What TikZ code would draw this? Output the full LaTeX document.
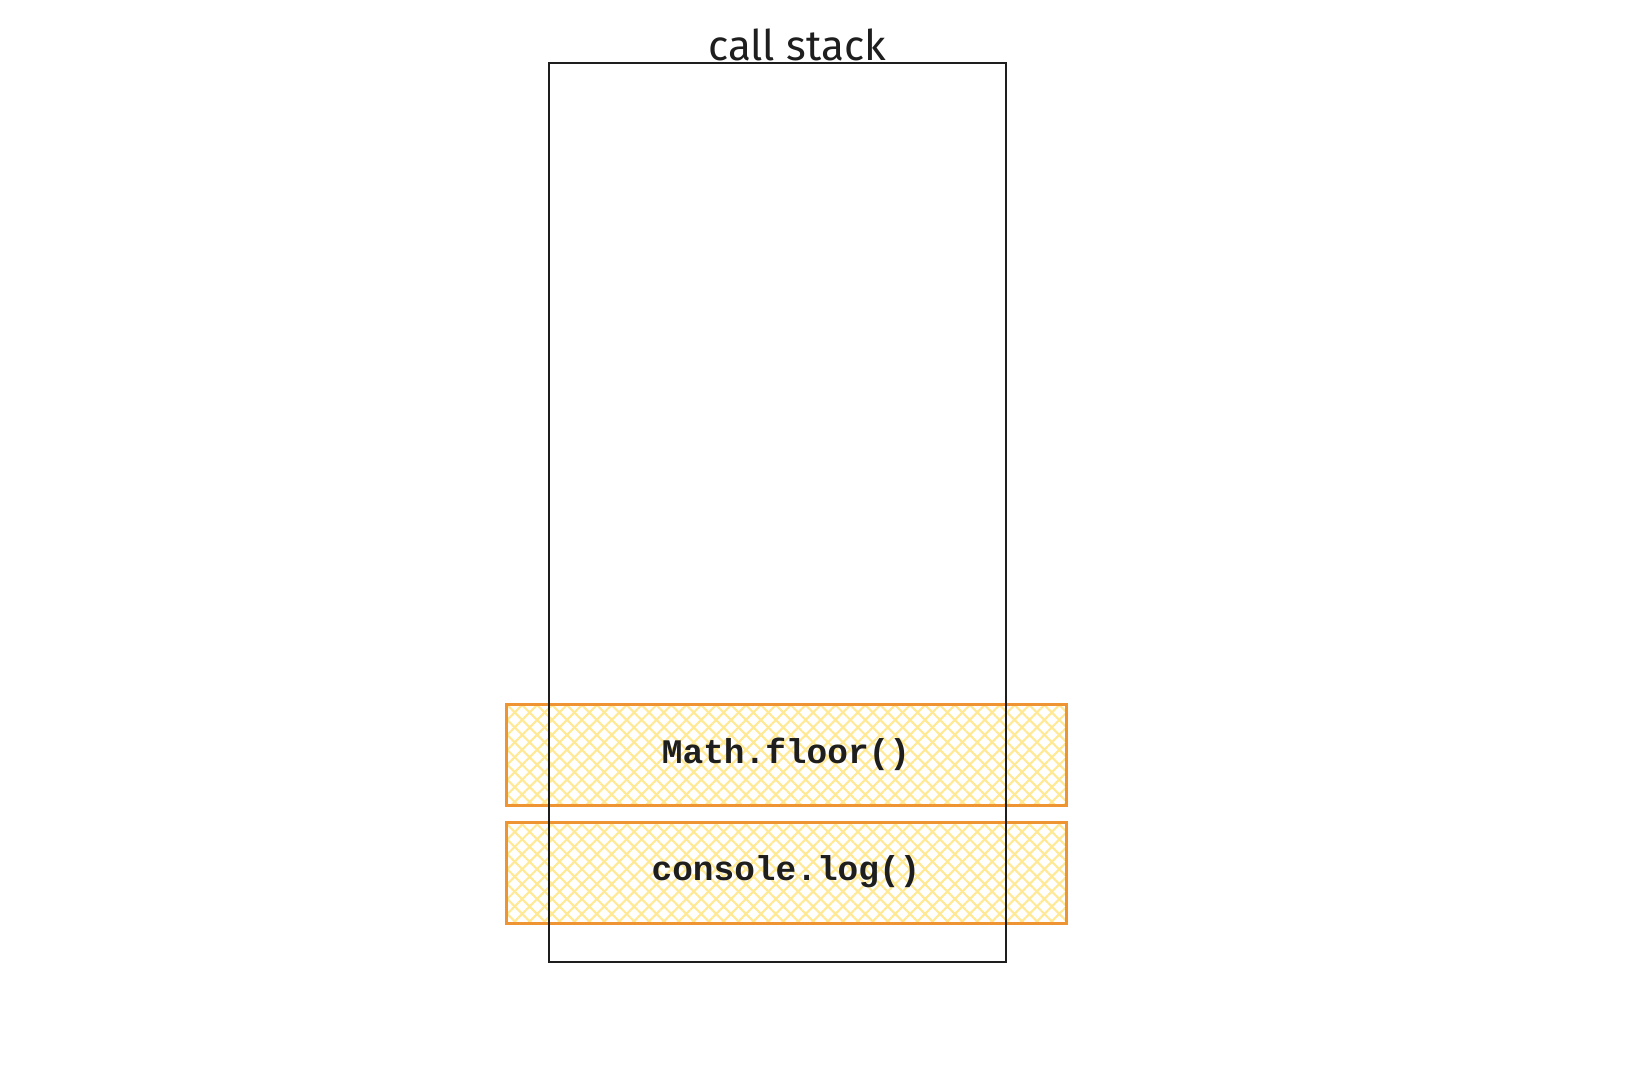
\documentclass[tikz,border=0pt]{standalone}
\usepackage{fontspec}
\setmainfont{Fira Sans}
\setmonofont{Liberation Mono}
\usetikzlibrary{patterns.meta}
\definecolor{frameorange}{HTML}{EE9433}
\definecolor{hatchyellow}{HTML}{FFE994}
\definecolor{inkblack}{HTML}{1E1E1E}
\tikzset{
  framebox/.style={draw=frameorange, line width=0.85pt},
  hatchA/.style={pattern={Lines[angle=45,distance=3pt,line width=0.6pt]}, pattern color=hatchyellow},
  hatchB/.style={pattern={Lines[angle=-45,distance=3pt,line width=0.6pt]}, pattern color=hatchyellow},
  codetext/.style={font=\fontsize{9.8}{12}\selectfont\ttfamily\bfseries, text=inkblack}
}
\begin{document}
\begin{tikzpicture}[x=0.01cm, y=-0.01cm]
\useasboundingbox[fill=white] (0,0) rectangle (1640,1078);

% stack frames
\foreach \y in {704, 822}
{
	\path[hatchA] (506,\y) rectangle (1066,\y+101);
	\path[hatchB] (506,\y) rectangle (1066,\y+101);
	\draw[framebox] (506,\y) rectangle (1066,\y+101);
}

% the stack itself
\draw[inkblack, line width=0.45pt] (549,63) rectangle (1006,962);

\path (797,60) node[draw=none, anchor=base, text=inkblack, font=\fontsize{12}{14}\selectfont] (title) {call stack};
\path (786,754) node[draw=none, codetext] (floor) {Math.floor()};
\path (786,872) node[draw=none, codetext] (console) {console.log()};

\end{tikzpicture}
\end{document}
